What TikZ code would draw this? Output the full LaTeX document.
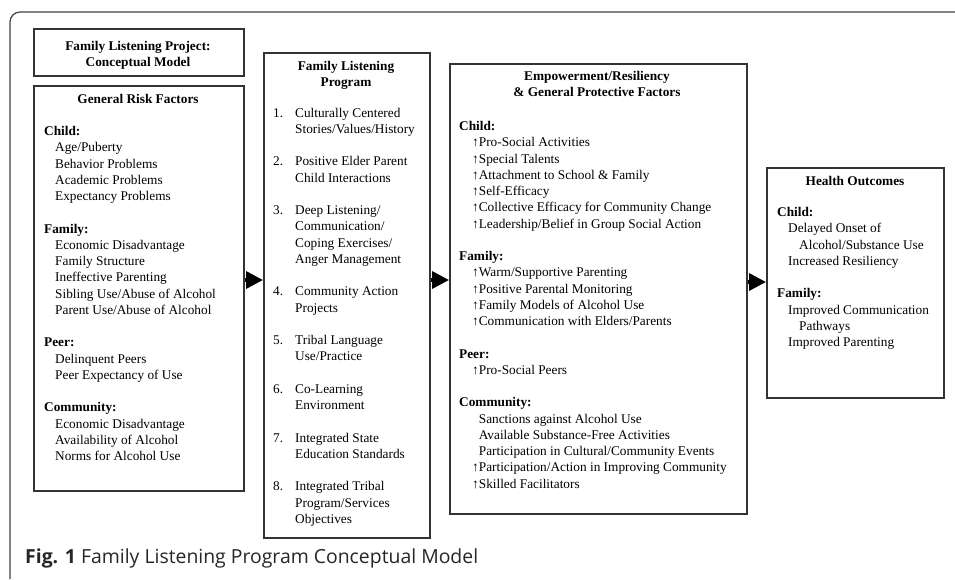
\documentclass[tikz,border=0pt]{standalone}
\usepackage{fontspec}
\setmainfont{Liberation Serif}
\newfontfamily\capfont{Open Sans}
\usetikzlibrary{arrows.meta}
\newcommand{\ind}{\hspace*{11pt}}
\newcommand{\upind}{\hspace*{13pt}↑}
\newcommand{\noind}{\hspace*{13pt}\phantom{↑}}
\tikzset{
	panel/.style={draw=black!80, line width=1.5pt, anchor=north west, inner sep=0pt},
	body/.style={anchor=north west, inner sep=0pt, font=\fontsize{13.3}{16.25}\selectfont},
	head/.style={inner sep=0pt, font=\fontsize{13.3}{16.25}\selectfont\bfseries},
	flow/.style={-{Triangle[length=17pt,width=17pt]}, line width=3.5pt},
}
\begin{document}
\begin{tikzpicture}[x=1pt,y=-1pt]
	\useasboundingbox (0,0) rectangle (955,579);
	% outer frame
	\draw[black!75, line width=1.2pt, rounded corners=10pt] (10,579) -- (10,12) -- (955,12);
	% the five boxes
	\node[panel, line width=1.8pt, minimum width=210pt, minimum height=47pt] (title) at (33,28) {};
	\node[panel, line width=1.8pt, minimum width=210pt, minimum height=405pt] (risk) at (33,85) {};
	\node[panel, minimum width=166pt, minimum height=485pt] (prog) at (263,52) {};
	\node[panel, minimum width=297pt, minimum height=450pt] (empow) at (449,63) {};
	\node[panel, minimum width=177pt, minimum height=230pt] (health) at (766,167) {};
	% title
	\node[head, anchor=north] (titletext) at (138,39) {\begin{tabular}{@{}c@{}}Family Listening Project:\\Conceptual Model\end{tabular}};
	% risk factors
	\node[head, anchor=base] (riskhead) at (138,103.5) {General Risk Factors};
	\node[body] (risktext) at (44,124) {\begin{tabular}{@{}l@{}}
		\textbf{Child:}\\
		\ind Age/Puberty\\
		\ind Behavior Problems\\
		\ind Academic Problems\\
		\ind Expectancy Problems\\[16.25pt]
		\textbf{Family:}\\
		\ind Economic Disadvantage\\
		\ind Family Structure\\
		\ind Ineffective Parenting\\
		\ind Sibling Use/Abuse of Alcohol\\
		\ind Parent Use/Abuse of Alcohol\\[16.25pt]
		\textbf{Peer:}\\
		\ind Delinquent Peers\\
		\ind Peer Expectancy of Use\\[16.25pt]
		\textbf{Community:}\\
		\ind Economic Disadvantage\\
		\ind Availability of Alcohol\\
		\ind Norms for Alcohol Use
	\end{tabular}};
	% program
	\node[head, anchor=north] (proghead) at (346,59) {\begin{tabular}{@{}c@{}}Family Listening\\Program\end{tabular}};
	\node[body] (progtext) at (273,105.6) {\begin{tabular}{@{}l@{\hspace{12pt}}l@{}}
		1. & Culturally Centered\\
		   & Stories/Values/History\\[16.25pt]
		2. & Positive Elder Parent\\
		   & Child Interactions\\[16.25pt]
		3. & Deep Listening/\\
		   & Communication/\\
		   & Coping Exercises/\\
		   & Anger Management\\[16.25pt]
		4. & Community Action\\
		   & Projects\\[16.25pt]
		5. & Tribal Language\\
		   & Use/Practice\\[16.25pt]
		6. & Co-Learning\\
		   & Environment\\[16.25pt]
		7. & Integrated State\\
		   & Education Standards\\[16.25pt]
		8. & Integrated Tribal\\
		   & Program/Services\\
		   & Objectives
	\end{tabular}};
	% protective factors
	\node[head, anchor=north] (empowhead) at (597,69) {\begin{tabular}{@{}c@{}}Empowerment/Resiliency\\\& General Protective Factors\end{tabular}};
	\node[body] (empowtext) at (459,119) {\begin{tabular}{@{}l@{}}
		\textbf{Child:}\\
		\upind Pro-Social Activities\\
		\upind Special Talents\\
		\upind Attachment to School \& Family\\
		\upind Self-Efficacy\\
		\upind Collective Efficacy for Community Change\\
		\upind Leadership/Belief in Group Social Action\\[16.25pt]
		\textbf{Family:}\\
		\upind Warm/Supportive Parenting\\
		\upind Positive Parental Monitoring\\
		\upind Family Models of Alcohol Use\\
		\upind Communication with Elders/Parents\\[16.25pt]
		\textbf{Peer:}\\
		\upind Pro-Social Peers\\[16.25pt]
		\textbf{Community:}\\
		\noind Sanctions against Alcohol Use\\
		\noind Available Substance-Free Activities\\
		\noind Participation in Cultural/Community Events\\
		\upind Participation/Action in Improving Community\\
		\upind Skilled Facilitators
	\end{tabular}};
	% outcomes
	\node[head, anchor=base] (healthhead) at (855,185.5) {Health Outcomes};
	\node[body] (healthtext) at (777,205) {\begin{tabular}{@{}l@{}}
		\textbf{Child:}\\
		\ind Delayed Onset of\\
		\ind\ind Alcohol/Substance Use\\
		\ind Increased Resiliency\\[16.25pt]
		\textbf{Family:}\\
		\ind Improved Communication\\
		\ind\ind Pathways\\
		\ind Improved Parenting
	\end{tabular}};
	% arrows
	\coordinate (lvl) at (0,280);
	\coordinate (lvlb) at (0,282);
	\draw[flow] (risk.east |- lvl) -- (prog.west |- lvl);
	\draw[flow] (prog.east |- lvl) -- (empow.west |- lvl);
	\draw[flow] (empow.east |- lvlb) -- (health.west |- lvlb);
	% caption
	\node[anchor=base west, inner sep=0pt, text=black!85, font=\capfont\fontsize{19.4}{22}\selectfont] (caption) at (25,563) {\textbf{Fig. 1} Family Listening Program Conceptual Model};
\end{tikzpicture}
\end{document}
